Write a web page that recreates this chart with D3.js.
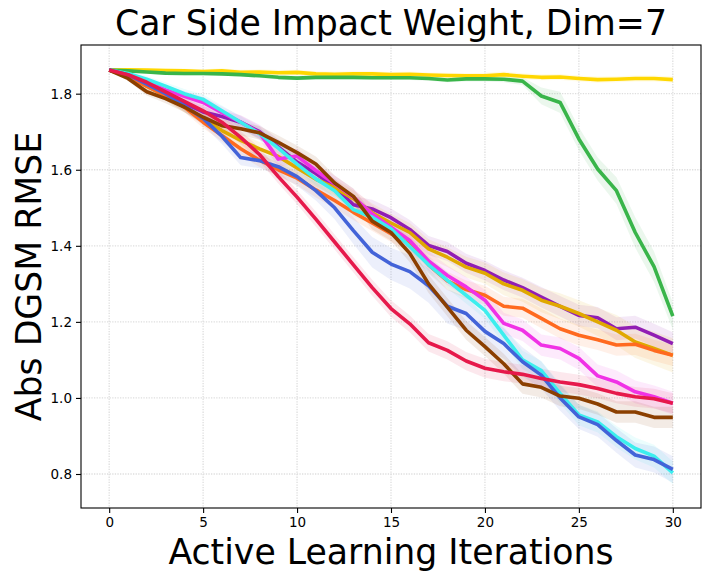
<!DOCTYPE html>
<html>
<head>
<meta charset="utf-8">
<script src="https://cdn.jsdelivr.net/npm/d3@7"></script>
<style>
  html, body { margin: 0; padding: 0; background: #fff; }
  svg { display: block; font-family: "DejaVu Sans", sans-serif; }
</style>
</head>
<body>
<svg id="chart" width="711" height="580"></svg>
<script>
// ---------------- data ----------------
const iterations = d3.range(0, 31);
const xTicks = [0, 5, 10, 15, 20, 25, 30];
const yTicks = [0.8, 1.0, 1.2, 1.4, 1.6, 1.8];
const titleText = "Car Side Impact Weight, Dim=7";
const xLabel = "Active Learning Iterations";
const yLabel = "Abs DGSM RMSE";

const yellowVals = [1.862,1.863,1.862,1.861,1.860,1.858,1.860,1.856,1.857,1.855,1.856,1.852,1.851,1.852,1.852,1.850,1.851,1.849,1.848,1.847,1.847,1.850,1.846,1.843,1.844,1.840,1.837,1.838,1.840,1.840,1.837];
const yellowBand = [0,0.004,0.005,0.006,0.006,0.006,0.007,0.007,0.007,0.007,0.007,0.007,0.007,0.007,0.007,0.007,0.007,0.007,0.007,0.007,0.008,0.008,0.008,0.008,0.008,0.008,0.008,0.008,0.008,0.008,0.008];

const greenVals = [1.862,1.860,1.857,1.854,1.853,1.853,1.852,1.850,1.847,1.843,1.841,1.843,1.843,1.843,1.842,1.842,1.842,1.840,1.836,1.839,1.839,1.838,1.833,1.794,1.777,1.681,1.602,1.545,1.435,1.345,1.215];
const greenBand = [0,0.003,0.004,0.005,0.005,0.005,0.005,0.005,0.005,0.006,0.006,0.006,0.006,0.006,0.006,0.006,0.006,0.006,0.006,0.007,0.007,0.008,0.01,0.022,0.028,0.03,0.03,0.035,0.04,0.04,0.035];

const purpleVals = [1.862,1.848,1.825,1.800,1.775,1.752,1.740,1.725,1.700,1.660,1.620,1.590,1.555,1.508,1.497,1.474,1.443,1.401,1.385,1.354,1.335,1.310,1.290,1.265,1.241,1.217,1.211,1.182,1.186,1.165,1.143];
const purpleBand = [0,0.006,0.01,0.012,0.014,0.015,0.016,0.018,0.018,0.02,0.02,0.02,0.022,0.022,0.024,0.024,0.025,0.025,0.025,0.025,0.026,0.026,0.026,0.027,0.027,0.028,0.028,0.03,0.03,0.03,0.03];

const goldVals = [1.862,1.845,1.820,1.795,1.765,1.735,1.703,1.677,1.655,1.635,1.605,1.575,1.553,1.524,1.487,1.460,1.435,1.392,1.370,1.344,1.328,1.300,1.283,1.257,1.241,1.222,1.200,1.178,1.147,1.130,1.112];
const goldBand = [0,0.006,0.01,0.012,0.014,0.015,0.016,0.018,0.018,0.02,0.02,0.02,0.022,0.022,0.024,0.024,0.025,0.025,0.026,0.027,0.028,0.03,0.03,0.032,0.034,0.035,0.037,0.04,0.042,0.044,0.045];

const orangeVals = [1.862,1.845,1.820,1.795,1.765,1.725,1.690,1.655,1.625,1.600,1.578,1.547,1.519,1.488,1.460,1.432,1.405,1.350,1.308,1.285,1.270,1.241,1.236,1.209,1.182,1.165,1.153,1.139,1.141,1.125,1.112];
const orangeBand = [0,0.006,0.01,0.012,0.014,0.015,0.016,0.017,0.018,0.018,0.019,0.02,0.02,0.02,0.021,0.022,0.022,0.023,0.024,0.024,0.025,0.025,0.025,0.026,0.026,0.027,0.027,0.028,0.028,0.028,0.028];

const magentaVals = [1.862,1.850,1.830,1.810,1.793,1.777,1.750,1.725,1.697,1.628,1.636,1.598,1.563,1.528,1.484,1.449,1.414,1.360,1.322,1.292,1.257,1.196,1.178,1.139,1.130,1.104,1.058,1.042,1.016,1.003,0.986];
const magentaBand = [0,0.006,0.01,0.012,0.014,0.015,0.016,0.017,0.018,0.02,0.02,0.02,0.022,0.022,0.023,0.024,0.025,0.025,0.026,0.026,0.027,0.028,0.028,0.028,0.029,0.03,0.03,0.03,0.03,0.03,0.03];

const cyanVals = [1.862,1.853,1.838,1.820,1.800,1.785,1.755,1.725,1.695,1.657,1.615,1.576,1.545,1.495,1.475,1.445,1.398,1.350,1.309,1.270,1.230,1.165,1.100,1.072,1.012,0.955,0.937,0.898,0.867,0.847,0.803];
const cyanBand = [0,0.005,0.008,0.01,0.012,0.013,0.014,0.015,0.015,0.016,0.016,0.017,0.018,0.018,0.019,0.02,0.02,0.02,0.021,0.022,0.022,0.023,0.024,0.025,0.026,0.027,0.028,0.028,0.029,0.03,0.03];

const blueVals = [1.862,1.850,1.825,1.800,1.768,1.735,1.688,1.632,1.624,1.608,1.582,1.545,1.500,1.440,1.383,1.352,1.332,1.295,1.241,1.222,1.175,1.143,1.095,1.060,1.000,0.950,0.930,0.888,0.850,0.838,0.812];
const blueBand = [0,0.006,0.01,0.012,0.015,0.018,0.02,0.02,0.02,0.022,0.024,0.026,0.03,0.035,0.04,0.042,0.044,0.045,0.045,0.044,0.042,0.04,0.038,0.036,0.034,0.032,0.032,0.032,0.033,0.034,0.035];

const brownVals = [1.862,1.840,1.805,1.787,1.765,1.738,1.716,1.708,1.697,1.672,1.645,1.615,1.565,1.530,1.465,1.435,1.380,1.300,1.239,1.178,1.135,1.090,1.037,1.028,1.005,0.999,0.984,0.963,0.963,0.949,0.949];
const brownBand = [0,0.006,0.01,0.012,0.014,0.015,0.016,0.017,0.018,0.018,0.019,0.02,0.02,0.021,0.022,0.022,0.023,0.024,0.024,0.025,0.025,0.026,0.026,0.027,0.027,0.028,0.028,0.028,0.028,0.028,0.028];

const crimsonVals = [1.862,1.850,1.830,1.805,1.780,1.755,1.725,1.685,1.640,1.582,1.528,1.470,1.410,1.350,1.290,1.235,1.195,1.145,1.125,1.097,1.078,1.069,1.062,1.051,1.042,1.035,1.025,1.012,1.003,0.998,0.986];
const crimsonBand = [0,0.006,0.01,0.012,0.014,0.015,0.016,0.017,0.018,0.018,0.019,0.02,0.02,0.02,0.021,0.022,0.022,0.023,0.024,0.024,0.025,0.025,0.025,0.026,0.026,0.026,0.026,0.026,0.026,0.026,0.026];

const seriesList = [
  { name: "yellow",  color: "#FFD700", values: yellowVals,  band: yellowBand },
  { name: "green",   color: "#39B54A", values: greenVals,   band: greenBand },
  { name: "purple",  color: "#911EB4", values: purpleVals,  band: purpleBand },
  { name: "gold",    color: "#E0A800", values: goldVals,    band: goldBand },
  { name: "orange",  color: "#FF6A1F", values: orangeVals,  band: orangeBand },
  { name: "magenta", color: "#F032E6", values: magentaVals, band: magentaBand },
  { name: "cyan",    color: "#3CEEEE", values: cyanVals,    band: cyanBand },
  { name: "blue",    color: "#4363D8", values: blueVals,    band: blueBand },
  { name: "brown",   color: "#8B3F00", values: brownVals,   band: brownBand },
  { name: "crimson", color: "#E6194B", values: crimsonVals, band: crimsonBand }
];

// ---------------- layout ----------------
const svg = d3.select("#chart");
const margin = { left: 81, top: 45, right: 10, bottom: 72 };
const W = 711, H = 580;
const pw = W - margin.left - margin.right; // 620
const ph = H - margin.top - margin.bottom; // 463

const x = d3.scaleLinear().domain([-1.5, 31.5]).range([margin.left, margin.left + pw]);
const y = d3.scaleLinear().domain([0.7106, 1.928]).range([margin.top + ph, margin.top]);

// grid
const grid = svg.append("g");
grid.selectAll("line.gx").data(xTicks).enter().append("line")
  .attr("x1", d => x(d)).attr("x2", d => x(d))
  .attr("y1", margin.top).attr("y2", margin.top + ph)
  .attr("stroke", "#dedede").attr("stroke-width", 1.3).attr("stroke-dasharray", "1.3,1.3");
grid.selectAll("line.gy").data(yTicks).enter().append("line")
  .attr("x1", margin.left).attr("x2", margin.left + pw)
  .attr("y1", d => y(d)).attr("y2", d => y(d))
  .attr("stroke", "#dedede").attr("stroke-width", 1.3).attr("stroke-dasharray", "1.3,1.3");

// clip
svg.append("clipPath").attr("id", "clip").append("rect")
  .attr("x", margin.left).attr("y", margin.top).attr("width", pw).attr("height", ph);

const plot = svg.append("g").attr("clip-path", "url(#clip)");

const area = d3.area()
  .x(d => x(d.i))
  .y0(d => y(d.v - d.b))
  .y1(d => y(d.v + d.b));
const line = d3.line().x(d => x(d.i)).y(d => y(d.v));

seriesList.forEach(s => {
  const pts = iterations.map((i, k) => ({ i, v: s.values[k], b: s.band[k] }));
  plot.append("path").datum(pts).attr("d", area)
    .attr("fill", s.color).attr("fill-opacity", 0.1).attr("stroke", "none");
});
seriesList.forEach(s => {
  const pts = iterations.map((i, k) => ({ i, v: s.values[k] }));
  plot.append("path").datum(pts).attr("d", line)
    .attr("fill", "none").attr("stroke", s.color).attr("stroke-width", 3.6)
    .attr("stroke-linejoin", "round").attr("stroke-linecap", "butt");
});

// axes
const xAxis = d3.axisBottom(x).tickValues(xTicks).tickSize(5).tickPadding(4).tickFormat(d3.format("d"));
const yAxis = d3.axisLeft(y).tickValues(yTicks).tickSize(5).tickPadding(4).tickFormat(d3.format(".1f"));

const gx = svg.append("g").attr("transform", `translate(0,${margin.top + ph})`).call(xAxis);
const gy = svg.append("g").attr("transform", `translate(${margin.left},0)`).call(yAxis);
[gx, gy].forEach(g => {
  g.select(".domain").remove();
  g.selectAll("text").attr("font-size", 13.5).attr("font-family", "DejaVu Sans").attr("fill", "#000");
  g.selectAll("line").attr("stroke", "#000").attr("stroke-width", 1.1);
});

// frame
svg.append("rect").attr("x", margin.left).attr("y", margin.top)
  .attr("width", pw).attr("height", ph)
  .attr("fill", "none").attr("stroke", "#000").attr("stroke-width", 1.1);

// texts
svg.append("text").attr("x", margin.left + pw / 2).attr("y", 35)
  .attr("text-anchor", "middle").attr("font-size", 34.7).text(titleText);
svg.append("text").attr("x", margin.left + pw / 2).attr("y", 564)
  .attr("text-anchor", "middle").attr("font-size", 34.7).text(xLabel);
svg.append("text").attr("transform", `translate(41,${margin.top + ph / 2}) rotate(-90)`)
  .attr("text-anchor", "middle").attr("font-size", 34.7).text(yLabel);
</script>
</body>
</html>
